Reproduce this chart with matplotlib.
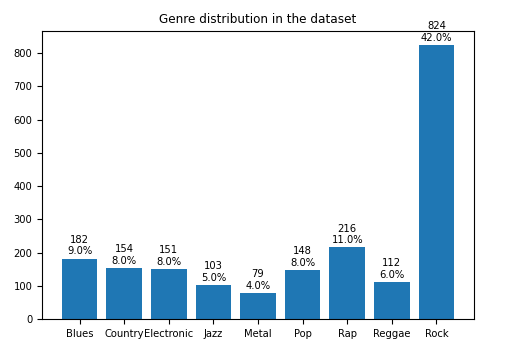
import numpy as np
import matplotlib
matplotlib.use("Agg")
import matplotlib.pyplot as plt

# Genre counts and rounded shares
genres = ['Blues', 'Country', 'Electronic', 'Jazz', 'Metal', 'Pop', 'Rap', 'Reggae', 'Rock']
counts = [182, 154, 151, 103, 79, 148, 216, 112, 824]
shares = [9.0, 8.0, 8.0, 5.0, 4.0, 8.0, 11.0, 6.0, 42.0]

fig, ax = plt.subplots(figsize=(5.14, 3.45), dpi=100)
fig.subplots_adjust(left=0.082, right=0.922, top=0.91, bottom=0.075)

bars = ax.bar(genres, counts, color='#1f77b4')
for bar, n, p in zip(bars, counts, shares):
    ax.annotate(f"{n}\n{p:.1f}%",
                xy=(bar.get_x() + bar.get_width() / 2, bar.get_height()),
                xytext=(0, 1.5), textcoords='offset points',
                ha='center', va='bottom', fontsize=7.2)

ax.set_title("Genre distribution in the dataset", fontsize=8.64)
ax.tick_params(labelsize=7.2)
ax.set_ylim(0, 866)

fig.savefig("out.png", dpi=100)
